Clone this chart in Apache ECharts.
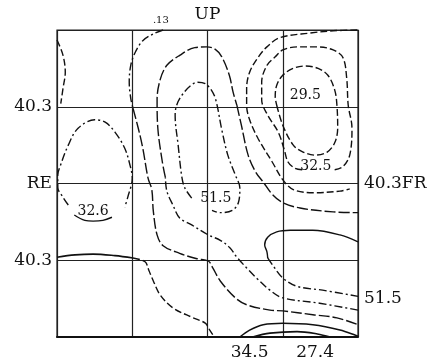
<!DOCTYPE html>
<html>
<head>
<meta charset="utf-8">
<script src="https://cdn.jsdelivr.net/npm/echarts@6/dist/echarts.min.js"></script>
<style>
  html, body { margin: 0; padding: 0; background: #fff; }
  #chart { width: 441px; height: 361px; }
</style>
</head>
<body>
<div id="chart"></div>
<script>
// ---- grid / tick labels ----
const leftTickValues = [1, 2, 3];
const leftTickLabels = ['40.3', 'RE', '40.3'];
const rightTickValues = [0.5, 2];
const rightTickLabels = ['51.5', '40.3FR'];
const topTickValues = [2];
const topTickLabels = ['UP'];

// ---- contour lines (grid units, x 0..4 left->right, y 0..4 bottom->top) ----
const c1 = [[0,3.87],[0.08,3.67],[0.11,3.45],[0.08,3.24],[0.05,3.04]];
const c2a = [[0.15,1.72],[0.08,1.82],[0.01,1.95],[0.01,2.11],[0.04,2.22],[0.15,2.50],[0.28,2.72],[0.50,2.83],[0.64,2.80],[0.77,2.67],[0.90,2.46],[0.97,2.24],[1.00,2.07],[0.94,1.82],[0.90,1.69]];
const c2b = [[0.23,1.59],[0.37,1.52],[0.48,1.51],[0.61,1.52],[0.73,1.56]];
const c3a = [[1.41,4.00],[1.28,3.95],[1.14,3.86],[1.04,3.71],[0.98,3.54],[0.96,3.32],[0.98,3.11],[1.01,2.98]];
const c3b = [[1.01,2.98],[1.08,2.72],[1.14,2.46],[1.21,2.07],[1.26,1.92],[1.28,1.64],[1.33,1.33],[1.41,1.19],[1.63,1.09],[1.86,1.02],[2.01,0.99],[2.07,0.90],[2.17,0.73],[2.37,0.51],[2.52,0.42],[2.83,0.35],[3.00,0.34],[3.40,0.29],[3.72,0.25],[4.00,0.16]];
const c4a = [[4.00,0.35],[3.49,0.44],[3.00,0.51],[2.83,0.61],[2.66,0.76],[2.52,0.90],[2.39,1.04],[2.30,1.16],[2.17,1.26],[2.01,1.33],[1.79,1.46],[1.63,1.55],[1.54,1.72],[1.46,1.90],[1.44,2.08]];
const c4b = [[1.44,2.08],[1.40,2.28],[1.34,2.72],[1.33,3.09],[1.37,3.35],[1.46,3.54],[1.63,3.67],[1.83,3.77],[1.99,3.78],[2.10,3.75],[2.19,3.65],[2.29,3.41],[2.34,3.19],[2.39,3.02]];
const c4c = [[2.39,3.02],[2.45,2.76],[2.54,2.37],[2.64,2.15],[2.74,2.02],[2.86,1.86],[3.00,1.75],[3.23,1.68],[3.67,1.63],[4.00,1.62]];
const c5 = [[1.79,1.81],[1.70,1.94],[1.66,2.08],[1.61,2.50],[1.57,2.89],[1.59,3.02],[1.66,3.15],[1.77,3.27],[1.87,3.32],[1.97,3.30],[2.05,3.22],[2.11,3.09],[2.19,2.70],[2.27,2.37],[2.37,2.11],[2.43,1.94],[2.41,1.75],[2.33,1.65],[2.17,1.62],[2.06,1.65]];
const c6 = [[3.99,4.00],[3.67,3.99],[3.36,3.96],[2.96,3.90],[2.79,3.78],[2.67,3.64],[2.56,3.45],[2.52,3.24],[2.52,3.02],[2.56,2.83],[2.67,2.59],[2.86,2.28],[3.00,2.05],[3.14,1.92],[3.40,1.88],[3.76,1.90],[3.89,1.93]];
const c7 = [[3.69,2.18],[3.80,2.22],[3.89,2.37],[3.92,2.72],[3.87,3.02],[3.85,3.37],[3.80,3.64],[3.67,3.74],[3.46,3.78],[3.19,3.78],[3.00,3.74],[2.90,3.65],[2.79,3.54],[2.72,3.32],[2.72,3.09],[2.80,2.89],[2.94,2.67],[3.02,2.44],[3.07,2.28],[3.16,2.20],[3.26,2.18]];
const c8 = [[2.92,3.02],[3.00,2.76],[3.14,2.50],[3.27,2.41],[3.43,2.37],[3.59,2.41],[3.69,2.53],[3.73,2.72],[3.72,3.02],[3.69,3.22],[3.60,3.41],[3.47,3.50],[3.30,3.53],[3.14,3.50],[3.00,3.41],[2.92,3.28],[2.90,3.13],[2.92,3.02]];
const c9a = [[4.00,1.24],[3.76,1.33],[3.40,1.39],[3.10,1.39],[2.92,1.37],[2.80,1.30],[2.76,1.20],[2.79,1.11],[2.80,1.03]];
const c9b = [[2.80,1.03],[2.87,0.93],[3.00,0.77],[3.19,0.66],[3.53,0.61],[4.00,0.53]];
const c10a = [[0,1.04],[0.24,1.07],[0.48,1.08],[0.77,1.06],[1.01,1.03]];
const c10b = [[1.01,1.03],[1.17,0.98],[1.22,0.87],[1.28,0.73],[1.37,0.55],[1.54,0.38],[1.81,0.25],[1.97,0.18],[2.03,0.09],[2.09,0]];
const c11 = [[2.43,0],[2.56,0.09],[2.74,0.16],[3.00,0.18],[3.40,0.16],[3.76,0.09],[4.00,0.01]];
const c12 = [[2.60,0],[2.83,0.05],[3.19,0.07],[3.46,0.04],[3.63,0]];

// ---- contour value labels ----
const contourLabelText = ['29.5', '32.5', '32.6', '51.5'];
const contourLabelAt = [[3.30,3.15],[3.44,2.22],[0.48,1.64],[2.11,1.81]];
// ---- extra labels outside the grid ----
const outerLabelText = ['34.5', '27.4', '.13'];
const outerLabelAt = [[2.56,-0.20],[3.43,-0.20],[1.38,4.13]];

const FONT = 'DejaVu Serif';
const INK = '#111';

const DASH = [7, 3];
const DASHDOT = [8, 3, 2, 3];
const LONGDASH = [11, 3];

function line(data, type, width) {
  return {
    type: 'line', data: data, smooth: 0.35, showSymbol: false, symbol: 'none',
    silent: true, animation: false, clip: false,
    lineStyle: { color: INK, width: width || 1.4, type: type }
  };
}

function textSeries(texts, coords, size) {
  return {
    type: 'custom', silent: true, animation: false,
    data: coords,
    renderItem: function (params, api) {
      const p = api.coord([api.value(0), api.value(1)]);
      return {
        type: 'text', x: p[0], y: p[1],
        style: {
          text: texts[params.dataIndex], fill: INK,
          fontSize: size, fontFamily: FONT,
          align: 'center', verticalAlign: 'middle'
        }
      };
    }
  };
}

function lookup(values, labels) {
  return function (v) {
    for (let i = 0; i < values.length; i++) {
      if (Math.abs(values[i] - v) < 1e-6) return labels[i];
    }
    return '';
  };
}

const chart = echarts.init(document.getElementById('chart'), null, { renderer: 'canvas' });
chart.setOption({
  animation: false,
  backgroundColor: '#fff',
  grid: { left: 57, top: 30, width: 301, height: 307, show: true, borderColor: '#222', borderWidth: 1.2 },
  xAxis: [
    { type: 'value', min: 0, max: 4, interval: 1, position: 'bottom',
      axisLine: { show: true, onZero: false, lineStyle: { color: INK, width: 2 } },
      axisTick: { show: false }, axisLabel: { show: false },
      splitLine: { show: true, lineStyle: { color: '#222', width: 1.2 } } },
    { type: 'value', min: 0, max: 4, interval: 1, position: 'top',
      axisLine: { show: false }, axisTick: { show: false },
      axisLabel: { show: true, margin: 7, color: INK, fontSize: 17, fontFamily: FONT,
        formatter: lookup(topTickValues, topTickLabels) },
      splitLine: { show: false } }
  ],
  yAxis: [
    { type: 'value', min: 0, max: 4, interval: 1, position: 'left',
      axisLine: { show: false }, axisTick: { show: false },
      axisLabel: { show: true, margin: 5, color: INK, fontSize: 17, fontFamily: FONT,
        formatter: lookup(leftTickValues, leftTickLabels) },
      splitLine: { show: true, lineStyle: { color: '#222', width: 1.2 } } },
    { type: 'value', min: 0, max: 4, interval: 0.5, position: 'right',
      axisLine: { show: false }, axisTick: { show: false },
      axisLabel: { show: true, margin: 6, color: INK, fontSize: 17, fontFamily: FONT,
        formatter: lookup(rightTickValues, rightTickLabels) },
      splitLine: { show: false } }
  ],
  series: [
    line(c1, DASH),
    line(c2a, DASHDOT),
    line(c2b, 'solid'),
    line(c3a, DASHDOT),
    line(c3b, LONGDASH),
    line(c4a, DASHDOT),
    line(c4b, LONGDASH),
    line(c4c, LONGDASH),
    line(c5, DASHDOT),
    line(c6, DASH),
    line(c7, DASH),
    line(c8, DASH),
    line(c9a, 'solid'),
    line(c9b, DASHDOT),
    line(c10a, 'solid', 1.6),
    line(c10b, DASH),
    line(c11, 'solid', 1.6),
    line(c12, 'solid', 1.6),
    textSeries(contourLabelText, contourLabelAt, 14),
    textSeries(outerLabelText.slice(0, 2), outerLabelAt.slice(0, 2), 17),
    textSeries(outerLabelText.slice(2), outerLabelAt.slice(2), 10)
  ]
});
</script>
</body>
</html>
